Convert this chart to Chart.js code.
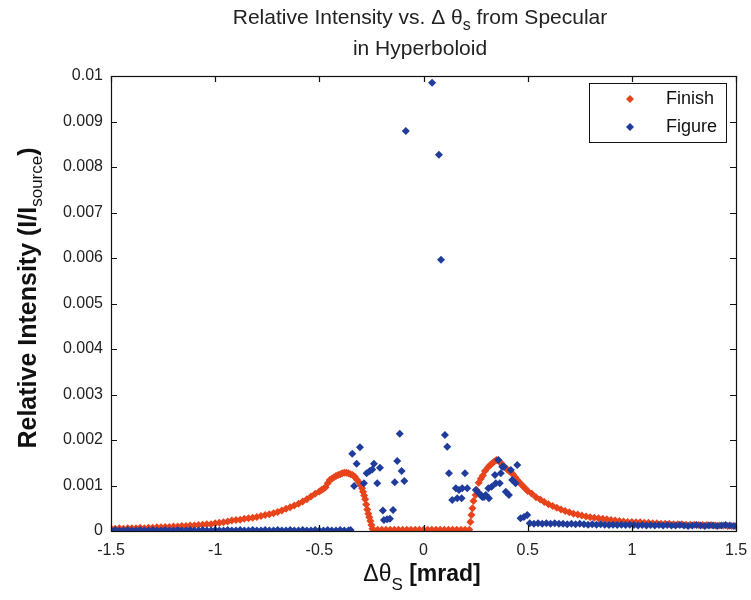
<!DOCTYPE html>
<html>
<head>
<meta charset="utf-8">
<script src="https://cdn.jsdelivr.net/npm/chart.js@4/dist/chart.umd.min.js"></script>
<style>
html,body{margin:0;padding:0;background:#fff;}
canvas{display:block;}
</style>
</head>
<body>
<canvas id="c" width="751" height="600"></canvas>
<script>
// ---- Data ----
const seriesNames = ["Finish", "Figure"];
const xTickValues = [-1.5, -1, -0.5, 0, 0.5, 1, 1.5];
const yTickValues = [0, 0.001, 0.002, 0.003, 0.004, 0.005, 0.006, 0.007, 0.008, 0.009, 0.01];

const finishX = [
 -1.50,-1.48,-1.46,-1.44,-1.42,-1.40,-1.38,-1.36,-1.34,-1.32,-1.30,-1.28,-1.26,-1.24,-1.22,-1.20,-1.18,-1.16,-1.14,-1.12,
 -1.10,-1.08,-1.06,-1.04,-1.02,-1.00,-0.98,-0.96,-0.94,-0.92,-0.90,-0.88,-0.86,-0.84,-0.82,-0.80,-0.78,-0.76,-0.74,-0.72,
 -0.70,-0.68,-0.66,-0.64,-0.62,-0.60,-0.58,-0.56,-0.54,-0.52,-0.50,-0.49,-0.48,-0.47,-0.46,-0.45,-0.44,-0.43,-0.42,-0.41,
 -0.40,-0.39,-0.38,-0.37,-0.36,-0.35,-0.34,-0.33,-0.32,-0.31,-0.30,-0.295,-0.29,-0.285,-0.28,-0.275,-0.27,-0.265,-0.26,-0.255,
 -0.25,-0.245,
 -0.24,-0.22,-0.20,-0.18,-0.16,-0.14,-0.12,-0.10,-0.08,-0.06,-0.04,-0.02,0.00,0.02,0.04,0.06,0.08,0.10,0.12,0.14,0.16,0.18,0.20,0.22,
 0.225,0.23,0.235,0.24,0.25,0.255,0.265,0.275,0.285,0.295,0.31,0.32,0.33,0.34,0.35,0.36,0.37,0.38,0.39,0.40,
 0.41,0.42,0.43,0.44,0.45,0.46,0.47,0.48,0.49,0.50,0.52,0.54,0.56,0.58,0.60,0.62,0.64,0.66,0.68,0.70,
 0.72,0.74,0.76,0.78,0.80,0.82,0.84,0.86,0.88,0.90,0.92,0.94,0.96,0.98,1.00,1.02,1.04,1.06,1.08,1.10,
 1.12,1.14,1.16,1.18,1.20,1.22,1.24,1.26,1.28,1.30,1.32,1.34,1.36,1.38,1.40,1.42,1.44,1.46,1.48,1.50
];
const finishY = [
 0.00005,0.00005,0.00006,0.00005,0.00006,0.00006,0.00006,0.00007,0.00006,0.00007,0.00007,0.00008,0.00008,0.00009,0.00009,0.00010,0.00010,0.00011,0.00011,0.00012,
 0.00012,0.00013,0.00014,0.00015,0.00015,0.00017,0.00018,0.00019,0.00021,0.00023,0.00024,0.00025,0.00027,0.00028,0.00029,0.00031,0.00033,0.00035,0.00037,0.00039,
 0.00042,0.00045,0.00049,0.00052,0.00056,0.00060,0.00065,0.00070,0.00076,0.00082,0.00087,0.00090,0.00093,0.00096,0.00105,0.00112,0.00115,0.00118,0.00121,0.00123,
 0.00125,0.00127,0.00128,0.00128,0.00127,0.00125,0.00123,0.00119,0.00113,0.00107,0.00100,0.00094,0.00086,0.00078,0.00070,0.00058,0.00047,0.00038,0.00030,0.00022,
 0.00013,0.00005,
 0.00003,0.00003,0.00003,0.00003,0.00003,0.00003,0.00003,0.00003,0.00003,0.00003,0.00003,0.00003,0.00003,0.00003,0.00003,0.00003,0.00003,0.00003,0.00003,0.00003,0.00003,0.00003,0.00003,0.00003,
 0.00020,0.00035,0.00050,0.00066,0.00079,0.00090,0.00106,0.00115,0.00122,0.00132,0.00140,0.00145,0.00149,0.00153,0.00156,0.00155,0.00150,0.00145,0.00140,0.00136,
 0.00132,0.00129,0.00124,0.00118,0.00112,0.00107,0.00102,0.00097,0.00093,0.00088,0.00082,0.00074,0.00069,0.00064,0.00059,0.00055,0.00051,0.00047,0.00044,0.00041,
 0.00038,0.00036,0.00034,0.00032,0.00030,0.00029,0.00028,0.00027,0.00026,0.00024,0.00023,0.00022,0.00021,0.00020,0.00020,0.00019,0.00019,0.00018,0.00018,0.00017,
 0.00017,0.00016,0.00016,0.00016,0.00015,0.00015,0.00015,0.00014,0.00014,0.00014,0.00013,0.00013,0.00013,0.00013,0.00012,0.00012,0.00012,0.00011,0.00011,0.00011
];

const figureX = [
 -1.50,-1.48,-1.46,-1.44,-1.42,-1.40,-1.38,-1.36,-1.34,-1.32,-1.30,-1.28,-1.26,-1.24,-1.22,-1.20,-1.18,-1.16,-1.14,-1.12,
 -1.10,-1.08,-1.06,-1.04,-1.02,-1.00,-0.98,-0.96,-0.94,-0.92,-0.90,-0.88,-0.86,-0.84,-0.82,-0.80,-0.78,-0.76,-0.74,-0.72,
 -0.70,-0.68,-0.66,-0.64,-0.62,-0.60,-0.58,-0.56,-0.54,-0.52,-0.50,-0.48,-0.46,-0.44,-0.42,-0.40,-0.38,-0.36,-0.35,
 -0.342,-0.333,-0.321,-0.305,-0.286,-0.273,-0.258,-0.246,-0.238,-0.222,-0.209,-0.195,-0.190,-0.175,-0.161,-0.146,-0.138,-0.126,-0.114,-0.105,
 -0.092,-0.085,0.041,0.074,0.084,0.103,0.114,0.122,0.138,0.155,0.162,0.170,0.183,0.186,0.199,0.210,
 0.251,0.266,0.275,0.282,0.290,0.299,0.311,0.314,0.327,0.343,0.347,0.359,0.366,0.371,0.378,0.386,0.395,0.410,0.419,0.426,
 0.442,0.450,0.466,0.482,0.498,
 0.51,0.53,0.55,0.57,0.59,0.61,0.63,0.65,0.67,0.69,0.71,0.73,0.75,0.77,0.79,0.81,0.83,0.85,0.87,0.89,
 0.91,0.93,0.95,0.97,0.99,1.01,1.03,1.05,1.07,1.09,1.11,1.13,1.15,1.17,1.19,1.21,1.23,1.25,1.27,1.29,
 1.31,1.33,1.35,1.37,1.39,1.41,1.43,1.45,1.47,1.49
];
const figureY = [
 0.00001,0.00002,0.00001,0.00001,0.00002,0.00001,0.00001,0.00002,0.00001,0.00001,0.00002,0.00001,0.00001,0.00002,0.00001,0.00001,0.00002,0.00001,0.00001,0.00002,
 0.00001,0.00001,0.00002,0.00001,0.00001,0.00002,0.00001,0.00001,0.00002,0.00001,0.00001,0.00002,0.00001,0.00001,0.00002,0.00001,0.00001,0.00002,0.00001,0.00001,
 0.00002,0.00001,0.00001,0.00002,0.00001,0.00001,0.00002,0.00001,0.00001,0.00002,0.00001,0.00001,0.00002,0.00001,0.00001,0.00002,0.00001,0.00001,0.00002,
 0.00170,0.00099,0.00148,0.00184,0.00105,0.00127,0.00132,0.00135,0.00148,0.00105,0.00139,0.00045,0.00024,0.00026,0.00027,0.00046,0.00107,0.00154,0.00214,0.00132,
 0.00110,0.00879,0.00985,0.00827,0.00596,0.00211,0.00185,0.00127,0.00068,0.00094,0.00072,0.00090,0.00072,0.00094,0.00127,0.00094,
 0.00090,0.00083,0.00079,0.00075,0.00075,0.00079,0.00094,0.00072,0.00097,0.00123,0.00105,0.00156,0.00105,0.00127,0.00141,0.00141,0.00086,0.00079,0.00134,0.00112,
 0.00105,0.00145,0.00028,0.00031,0.00035,
 0.00017,0.00016,0.00017,0.00016,0.00017,0.00016,0.00017,0.00016,0.00016,0.00015,0.00016,0.00015,0.00016,0.00015,0.00014,0.00015,0.00014,0.00015,0.00014,0.00013,
 0.00014,0.00013,0.00014,0.00013,0.00014,0.00013,0.00012,0.00013,0.00012,0.00013,0.00012,0.00013,0.00012,0.00013,0.00012,0.00012,0.00013,0.00012,0.00011,0.00012,
 0.00013,0.00012,0.00011,0.00012,0.00012,0.00011,0.00012,0.00013,0.00012,0.00011
];

// ---- Styles ----
const RED = "#e8441c";
const BLUE = "#1f3c9c";
const FONT = "'Liberation Sans', Arial, sans-serif";

function pts(xs, ys){ return xs.map((x,i)=>({x:x, y:ys[i]})); }

function drawRuns(ctx, runs, cx, cy, align){
  let total = 0;
  runs.forEach(r=>{ ctx.font = r.font; r.w = ctx.measureText(r.text).width; total += r.w; });
  let x = align === 'left' ? cx : cx - total/2;
  ctx.textBaseline = 'middle';
  ctx.textAlign = 'left';
  runs.forEach(r=>{ ctx.font = r.font; ctx.fillText(r.text, x, cy + (r.dy||0)); x += r.w; });
}

const decor = {
  id: 'decor',
  afterDatasetsDraw(chart){
    const ctx = chart.ctx, a = chart.chartArea;
    const xs = chart.scales.x, ys = chart.scales.y;
    ctx.save();
    ctx.strokeStyle = '#111';
    ctx.lineWidth = 1.2;
    // box
    ctx.strokeRect(Math.round(a.left)+0.5, Math.round(a.top)+0.5, Math.round(a.right-a.left), Math.round(a.bottom-a.top));
    // inward ticks
    const L = 6;
    ctx.beginPath();
    xs.ticks.forEach(t=>{
      const p = Math.round(xs.getPixelForValue(t.value))+0.5;
      ctx.moveTo(p, a.bottom); ctx.lineTo(p, a.bottom-L);
      ctx.moveTo(p, a.top); ctx.lineTo(p, a.top+L);
    });
    ys.ticks.forEach(t=>{
      const p = Math.round(ys.getPixelForValue(t.value))+0.5;
      ctx.moveTo(a.left, p); ctx.lineTo(a.left+L, p);
      ctx.moveTo(a.right, p); ctx.lineTo(a.right-L, p);
    });
    ctx.stroke();

    // legend
    const lx = 589, ly = 83, lw = 137, lh = 59;
    ctx.fillStyle = '#fff';
    ctx.fillRect(lx, ly, lw, lh);
    ctx.lineWidth = 1;
    ctx.strokeRect(lx+0.5, ly+0.5, lw, lh);
    const order = [1, 0];
    order.forEach((di, k)=>{
      const ds = chart.data.datasets[di];
      const yy = ly + 16 + k*28;
      ctx.fillStyle = ds.backgroundColor;
      ctx.beginPath();
      ctx.moveTo(630, yy-4); ctx.lineTo(634, yy); ctx.lineTo(630, yy+4); ctx.lineTo(626, yy); ctx.closePath();
      ctx.fill();
      ctx.fillStyle = '#111';
      ctx.font = '18px ' + FONT;
      ctx.textAlign = 'left'; ctx.textBaseline = 'middle';
      ctx.fillText(ds.label, 666, yy);
    });

    // title
    ctx.fillStyle = '#222';
    const tf = '21px ' + FONT, ts = '16px ' + FONT;
    drawRuns(ctx, [
      {text:'Relative Intensity vs. \u0394 \u03b8', font: tf},
      {text:'s', font: ts, dy: 8},
      {text:' from Specular', font: tf}
    ], 420, 18);
    drawRuns(ctx, [{text:'in Hyperboloid', font: tf}], 420, 49);

    // x axis title
    ctx.fillStyle = '#111';
    drawRuns(ctx, [
      {text:'\u0394\u03b8', font: '23px ' + FONT},
      {text:'S', font: '17px ' + FONT, dy: 10},
      {text:' [mrad]', font: 'bold 23px ' + FONT}
    ], 422, 575);

    // y axis title (rotated)
    ctx.save();
    ctx.translate(29, 298);
    ctx.rotate(-Math.PI/2);
    drawRuns(ctx, [
      {text:'Relative Intensity (I/I', font: 'bold 25px ' + FONT},
      {text:'source', font: '17px ' + FONT, dy: 8},
      {text:')', font: 'bold 25px ' + FONT}
    ], 0, 0);
    ctx.restore();
    ctx.restore();
  }
};

new Chart(document.getElementById('c'), {
  type: 'scatter',
  data: {
    datasets: [
      { label: seriesNames[1], data: pts(figureX, figureY), backgroundColor: BLUE, borderWidth: 0,
        pointStyle: 'rectRot', pointRadius: 4, pointHoverRadius: 4 },
      { label: seriesNames[0], data: pts(finishX, finishY), backgroundColor: RED, borderWidth: 0,
        pointStyle: 'rectRot', pointRadius: 4, pointHoverRadius: 4 }
    ]
  },
  options: {
    responsive: false,
    devicePixelRatio: 1,
    animation: false,
    events: [],
    layout: { padding: { left: 0, top: 76, right: 15, bottom: 0 } },
    plugins: { legend: { display: false }, title: { display: false }, tooltip: { enabled: false } },
    scales: {
      x: {
        type: 'linear', min: -1.5, max: 1.5,
        afterBuildTicks(s){ s.ticks = xTickValues.map(v=>({value:v})); },
        afterFit(s){ s.height = 69; s.paddingRight = 0; s.paddingLeft = 0; },
        grid: { display: false, drawTicks: false },
        border: { display: false },
        ticks: { color: '#222', padding: 10, maxRotation: 0, autoSkip: false,
          font: { family: FONT, size: 16 },
          callback: v => String(v) }
      },
      y: {
        type: 'linear', min: 0, max: 0.01,
        afterBuildTicks(s){ s.ticks = yTickValues.map(v=>({value:v})); },
        afterFit(s){ s.width = 111; },
        grid: { display: false, drawTicks: false },
        border: { display: false },
        ticks: { color: '#222', padding: 8, autoSkip: false,
          font: { family: FONT, size: 16 },
          callback: v => String(+v.toFixed(3)) }
      }
    }
  },
  plugins: [decor]
});
</script>
</body>
</html>
